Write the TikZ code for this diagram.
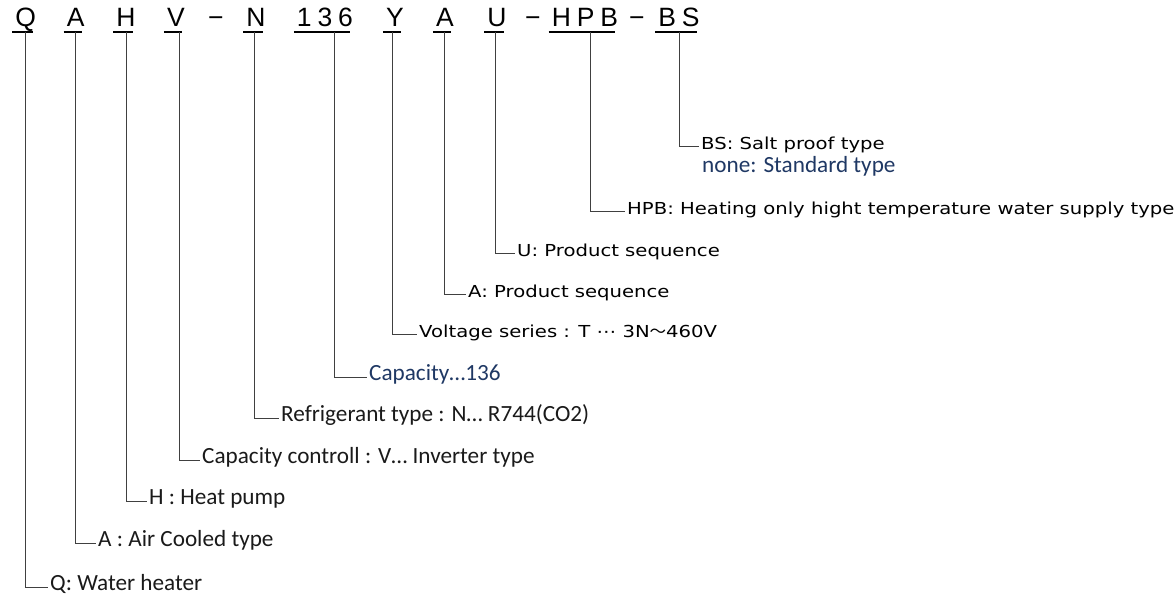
\documentclass[tikz,border=0pt]{standalone}
\usepackage{fontspec}
\usepackage{xcolor}
\setmainfont{Carlito}
\newfontfamily\codefont[LetterSpace=22]{Liberation Sans}
\newfontfamily\gothic[FakeStretch=1.19]{DejaVu Sans}
\newfontfamily\calib{Carlito}
\newfontfamily\cjk{Noto Sans CJK JP}
\usetikzlibrary{calc}
\definecolor{navy}{HTML}{1F3864}
\definecolor{ink}{HTML}{1A1A1A}

\begin{document}
\begin{tikzpicture}[x=1pt,y=-1pt,
  code/.style={anchor=base,inner xsep=3pt,inner ysep=5pt,text depth=0pt,font=\codefont\fontsize{26.5}{30}\selectfont,execute at end node={\kern-0.22em}},
  lead/.style={draw=black!75,line width=0.8pt},
  gtxt/.style={anchor=west,inner xsep=2pt,inner ysep=0pt,text height=0.73em,text depth=0pt,font=\gothic\fontsize{16.5}{20}\selectfont},
  ctxt/.style={anchor=west,inner xsep=2pt,inner ysep=0pt,text height=0.66em,text depth=0pt,font=\calib\fontsize{23.2}{27}\selectfont}]
\useasboundingbox (0,0) rectangle (1175,594);
\foreach \n/\x/\t in {Q/22.7/Q,A/72.7/A,H/123/H,V/173/V,N/253/N,136/322/136,Y/392/Y,Aa/442/A,U/494/U,HPB/582/HPB,BS/676/BS}{
  \node[code] (c\n) at (\x,27) {\t};
  \draw[line width=1.4pt] (c\n.south west) -- (c\n.south east);
}
\foreach \n/\x in {d1/213,d2/530,d3/634} \node[code] (\n) at (\x,27) {−};
\foreach \n/\s/\y/\e/\t in {BS/3/146/699/{BS: Salt proof type},
  HPB/8/211/625/{HPB: Heating only hight temperature water supply type},
  U/1/253/515/{U: Product sequence},Aa/2/294/466/{A: Product sequence},
  Y/0/334/417/{Voltage series : T ⋯ 3N{\cjk ～}460V}}{
  \node[gtxt] (l\n) at (\e,\y) {\t};
  \draw[lead] ([xshift=\s]c\n.south) |- (l\n.west);
}
\node[ctxt,text=navy] (none) at (700,169) {none: Standard type};
\foreach \n/\s/\y/\e/\c/\t in {136/12/377/367/navy/{Capacity…136},
  N/1/418/279/ink/{Refrigerant type : N… R744(CO2)},
  V/6/460/200/ink/{Capacity controll : V… Inverter type},
  H/3/501/147/ink/{H : Heat pump},A/2.3/543/96/ink/{A : Air Cooled type},
  Q/2.3/587/48/ink/{Q: Water heater}}{
  \node[ctxt,text=\c] (l\n) at (\e,\y) {\t};
  \draw[lead] ([xshift=\s]c\n.south) |- (l\n.west);
}
\end{tikzpicture}
\end{document}
